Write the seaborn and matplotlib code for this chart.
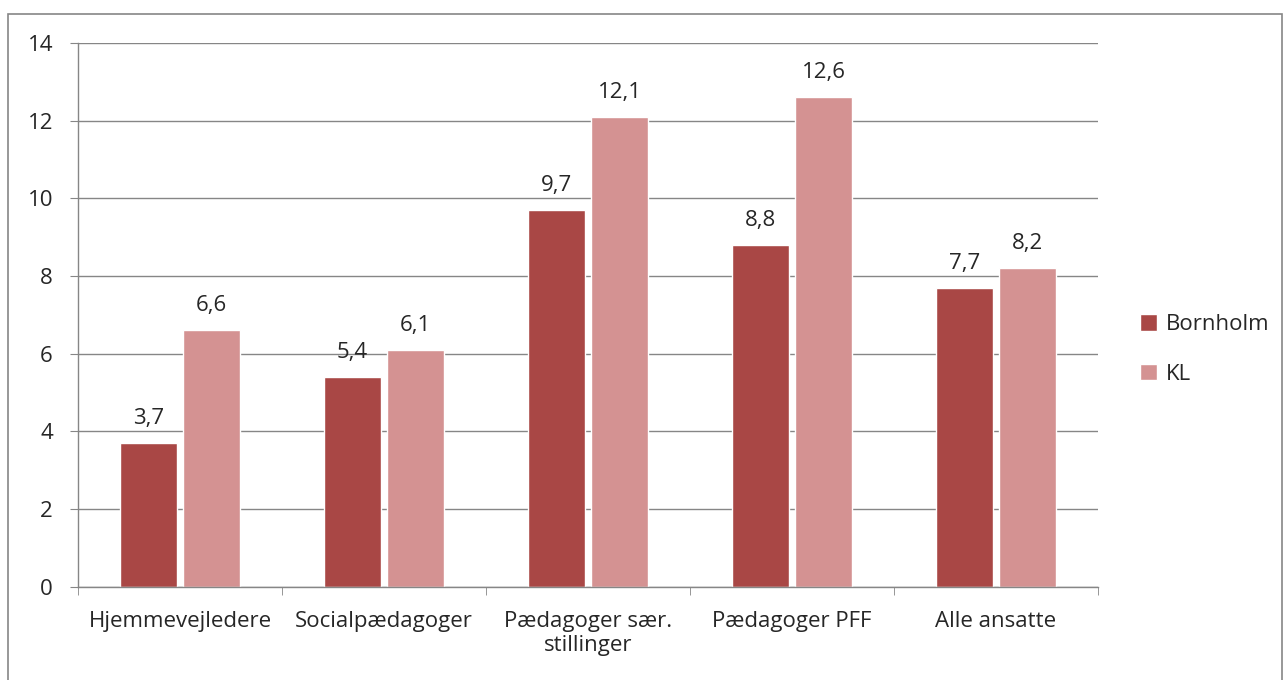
import matplotlib.pyplot as plt
import matplotlib.patches as mpatches
import pandas as pd
import seaborn as sns

# Data
categories = ['Hjemmevejledere', 'Socialpædagoger', 'Pædagoger sær.\nstillinger',
              'Pædagoger PFF', 'Alle ansatte']
bornholm = [3.7, 5.4, 9.7, 8.8, 7.7]
kl = [6.6, 6.1, 12.1, 12.6, 8.2]
series = ['Bornholm', 'KL']
colors = ['#A94745', '#D49292']

df = pd.DataFrame({
    'kategori': categories * 2,
    'serie': ['Bornholm'] * len(categories) + ['KL'] * len(categories),
    'værdi': bornholm + kl,
})

sns.set_style('white')
plt.rcParams['font.family'] = ['Open Sans', 'DejaVu Sans']
fs = 16

fig = plt.figure(figsize=(12.87, 6.80), dpi=100)
ax = fig.add_axes([0.0606, 0.137, 0.7925, 0.800])

sns.barplot(data=df, x='kategori', y='værdi', hue='serie', hue_order=series,
            palette=colors, width=0.62, gap=0.1, saturation=1, ax=ax, legend=True)

# Value labels with comma decimals
for container in ax.containers:
    ax.bar_label(container, labels=[f'{v:.1f}'.replace('.', ',') for v in container.datavalues],
                 padding=10, fontsize=fs)

ax.set_ylim(0, 14)
ax.set_yticks(range(0, 15, 2))
ax.set_xlim(-0.5, len(categories) - 0.5)
ax.set_xlabel('')
ax.set_ylabel('')

grid_color = '#868686'
ax.yaxis.grid(True, color=grid_color, linewidth=1)
ax.set_axisbelow(True)
for side in ['top', 'right']:
    ax.spines[side].set_visible(False)
for side in ['left', 'bottom']:
    ax.spines[side].set_color(grid_color)
    ax.spines[side].set_linewidth(1)

ax.tick_params(axis='y', left=True, length=6, color=grid_color, labelsize=fs, pad=12)
ax.tick_params(axis='x', bottom=False, labelsize=fs, pad=14)
ax.set_xticks([i - 0.5 for i in range(len(categories) + 1)], minor=True)
ax.tick_params(axis='x', which='minor', bottom=True, length=6, color=grid_color)

ax.legend(loc='center left', bbox_to_anchor=(1.033, 0.436), bbox_transform=ax.transAxes,
          frameon=False, fontsize=fs, borderaxespad=0,
          handlelength=0.75, handleheight=0.75, labelspacing=1.3, handletextpad=0.4)

# Outer chart border
fig.patches.append(mpatches.Rectangle((0.0065, -0.05), 0.99, 1.03, transform=fig.transFigure,
                                      fill=False, edgecolor='#868686', linewidth=1.2))

fig.savefig('out.png', dpi=100)
